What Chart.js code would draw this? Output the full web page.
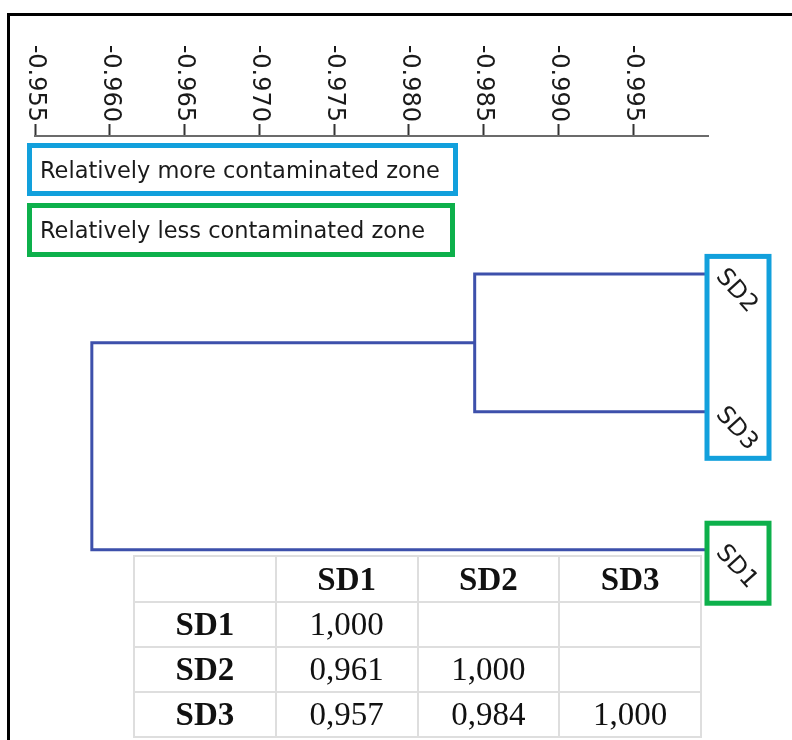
<!DOCTYPE html>
<html>
<head>
<meta charset="utf-8">
<script src="https://cdn.jsdelivr.net/npm/chart.js@4.4.1/dist/chart.umd.min.js"></script>
<style>
  html, body { margin: 0; padding: 0; background: #fff; }
  #wrap { position: relative; width: 792px; height: 740px; overflow: hidden; }
  #frame { position: absolute; left: 7px; top: 13px; width: 900px; height: 900px;
           border-top: 3px solid #000; border-left: 3px solid #000; }
  #chart { position: absolute; left: 0; top: 0; }
  .zone { position: absolute; left: 27px; box-sizing: border-box; border: 5px solid;
          font: 22.5px "DejaVu Sans", sans-serif; color: #1a1a1a; padding-left: 8px;
          display: flex; align-items: center; white-space: nowrap; }
  #simTable { position: absolute; left: 133px; top: 555px; width: 569px; table-layout: fixed;
              border-collapse: collapse;
              font: 33px "Liberation Serif", "Times New Roman", serif; color: #111; }
  #simTable td { border: 2px solid #dedede; width: 25%; text-align: center; padding: 0; }
  #simTable tr { height: 45px; }
  #simTable .b { font-weight: bold; }
</style>
</head>
<body>
<div id="wrap">
  <div id="frame"></div>
  <canvas id="chart" width="792" height="740"></canvas>
  <div id="zones"></div>
  <table id="simTable"></table>
</div>
<script>
(function(){
  // top axis ticks (negative similarity)
  const tickValues = [-0.955, -0.960, -0.965, -0.970, -0.975, -0.980, -0.985, -0.990, -0.995];
  // leaves, top to bottom
  const leafNames = ['SD2', 'SD3', 'SD1'];
  const leafRows = [2, 1, 0];
  const leafLevel = -1.000;
  // merge levels: SD2+SD3, then (SD2,SD3)+SD1
  const mergeLevels = [-0.9844, -0.9588];
  // zones
  const zoneNames = ['Relatively more contaminated zone', 'Relatively less contaminated zone'];
  const zoneLeaves = [['SD2', 'SD3'], ['SD1']];
  // similarity matrix (lower triangle)
  const sampleNames = ['SD1', 'SD2', 'SD3'];
  const simSD1 = [1.000];
  const simSD2 = [0.961, 1.000];
  const simSD3 = [0.957, 0.984, 1.000];

  const lineColor = '#3d50ab';
  const zoneColors = ['#12a0dc', '#0db04b'];

  // zone legend boxes
  const zoneBoxes = [
    { top: 143, width: 431, height: 53 },
    { top: 203, width: 428, height: 54 }
  ];
  const zonesDiv = document.getElementById('zones');
  zoneNames.forEach((name, i) => {
    const d = document.createElement('div');
    d.className = 'zone';
    d.style.top = zoneBoxes[i].top + 'px';
    d.style.width = zoneBoxes[i].width + 'px';
    d.style.height = zoneBoxes[i].height + 'px';
    d.style.borderColor = zoneColors[i];
    d.textContent = name;
    zonesDiv.appendChild(d);
  });

  // table
  const fmt = v => v.toFixed(3).replace('.', ',');
  const table = document.getElementById('simTable');
  let html = '<tr style="height:46px"><td></td>' + sampleNames.map(s => `<td class="b">${s}</td>`).join('') + '</tr>';
  [simSD1, simSD2, simSD3].forEach((row, r) => {
    html += `<tr><td class="b">${sampleNames[r]}</td>`;
    for (let c = 0; c < sampleNames.length; c++) html += `<td>${c < row.length ? fmt(row[c]) : ''}</td>`;
    html += '</tr>';
  });
  table.innerHTML = html;

  // dendrogram branches
  const branchA = [
    { x: leafLevel, y: leafRows[0] }, { x: mergeLevels[0], y: leafRows[0] },
    { x: mergeLevels[0], y: leafRows[1] }, { x: leafLevel, y: leafRows[1] }
  ];
  const midA = (leafRows[0] + leafRows[1]) / 2;
  const branchB = [
    { x: mergeLevels[0], y: midA }, { x: mergeLevels[1], y: midA },
    { x: mergeLevels[1], y: leafRows[2] }, { x: leafLevel, y: leafRows[2] }
  ];

  const dendroPlugin = {
    id: 'dendro',
    afterDraw(chart) {
      const { ctx, scales: { x, y } } = chart;
      ctx.save();
      // tick labels, rotated clockwise
      ctx.font = '24px "DejaVu Sans", sans-serif';
      ctx.fillStyle = '#1a1a1a';
      x.ticks.forEach((t, i) => {
        ctx.save();
        ctx.translate(x.getPixelForTick(i), x.bottom - 14);
        ctx.rotate(Math.PI / 2);
        ctx.textAlign = 'right';
        ctx.textBaseline = 'middle';
        ctx.fillText(t.value.toFixed(3), 0, 0);
        ctx.restore();
      });
      // zone boxes around leaves
      const lx = x.getPixelForValue(leafLevel);
      ctx.lineWidth = 5;
      zoneLeaves.forEach((group, i) => {
        const ys = group.map(n => y.getPixelForValue(leafRows[leafNames.indexOf(n)]));
        const top = Math.min(...ys) - (group.length > 1 ? 17.5 : 26.5);
        const bot = Math.max(...ys) + (group.length > 1 ? 46.5 : 53.5);
        ctx.strokeStyle = zoneColors[i];
        ctx.strokeRect(lx - 1, top, 62, bot - top);
      });
      // leaf labels
      ctx.font = '24px "DejaVu Sans", sans-serif';
      leafNames.forEach((name, i) => {
        ctx.save();
        ctx.translate(lx + 12, y.getPixelForValue(leafRows[i]) - 1);
        ctx.rotate(48 * Math.PI / 180);
        ctx.textAlign = 'left';
        ctx.textBaseline = 'middle';
        ctx.fillText(name, 0, 0);
        ctx.restore();
      });
      ctx.restore();
    }
  };

  new Chart(document.getElementById('chart'), {
    type: 'line',
    data: {
      datasets: [branchA, branchB].map(d => ({
        data: d, borderColor: lineColor, borderWidth: 3, pointRadius: 0,
        tension: 0, fill: false, borderJoinStyle: 'miter'
      }))
    },
    options: {
      responsive: false,
      animation: false,
      layout: { padding: { left: 35, right: 84, top: 124, bottom: 11 } },
      plugins: { legend: { display: false }, tooltip: { enabled: false } },
      scales: {
        x: {
          type: 'linear', position: 'top', reverse: true, min: -1.0, max: -0.955,
          afterBuildTicks: s => { s.ticks = tickValues.map(v => ({ value: v })); },
          ticks: { display: false },
          grid: { drawOnChartArea: false, drawTicks: true, tickLength: 12, tickWidth: 2, tickColor: '#333' },
          border: { display: true, color: '#6b6b6b', width: 2 }
        },
        y: { type: 'linear', display: false, min: -1.3, max: 3 }
      }
    },
    plugins: [dendroPlugin]
  });
})();
</script>
</body>
</html>
